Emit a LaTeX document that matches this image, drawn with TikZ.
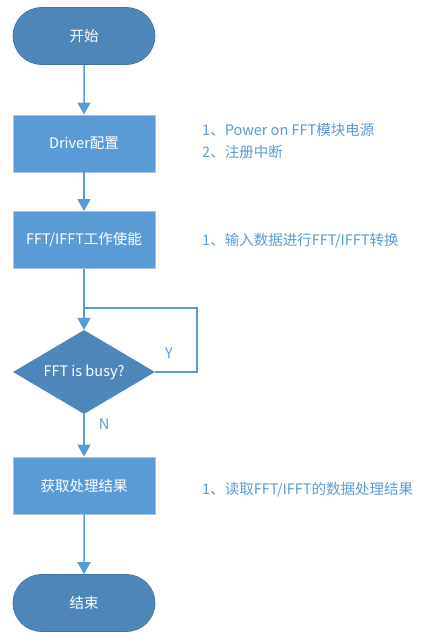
\documentclass[tikz,border=0pt]{standalone}
\usepackage{fontspec}
\setmainfont{Noto Sans CJK SC}
\usetikzlibrary{shapes.geometric,shapes.misc,arrows.meta}
\definecolor{termfill}{HTML}{4E86B9}
\definecolor{termdraw}{HTML}{41719C}
\definecolor{boxfill}{HTML}{5B9BD5}
\definecolor{boxdraw}{HTML}{A9C4E4}
\definecolor{linec}{HTML}{5B9BD5}
\definecolor{notec}{HTML}{5B9BD5}
\tikzset{
  x=1pt,y=-1pt,
  every node/.style={font=\fontsize{14.5}{17}\selectfont, inner sep=0pt},
  term/.style={rounded rectangle, fill=termfill, draw=termdraw, line width=0.6pt,
    minimum width=142pt, minimum height=57pt, text=white},
  proc/.style={rectangle, fill=boxfill, draw=boxdraw, line width=0.8pt,
    minimum width=142pt, minimum height=57pt, text=white},
  dec/.style={diamond, fill=termfill, draw=none, aspect=1.69,
    minimum width=142pt, minimum height=84pt, text=white},
  flow/.style={draw=linec, line width=1.5pt, -{Triangle[width=13pt,length=12pt]}},
  note/.style={text=notec, anchor=west},
  lab/.style={text=notec}
}
\begin{document}
\begin{tikzpicture}
\useasboundingbox (0,0) rectangle (435,642);
\node[term] (start) at (84,36) {开始};
\node[proc] (drv) at (84,143.5) {Driver配置};
\node[proc] (fft) at (84,240) {FFT/IFFT工作使能};
\node[dec] (busy) at (84,372) {};
\node[text=white] (busyt) at (busy.center) {FFT is busy?};
\node[proc] (res) at (84,485.5) {获取处理结果};
\node[term] (end) at (84,603) {结束};

\coordinate (j) at (84,308);
\coordinate (r1) at (197,308);
\coordinate (r2) at (197,372);

\draw[flow] (start) -- (drv);
\draw[flow] (drv) -- (fft);
\draw[flow] (fft) -- (busy);
\draw[draw=linec, line width=1.5pt] (busy.east) -- (r2) -- (r1) -- (j);
\draw[flow] (busy) -- (res);
\draw[flow] (res) -- (end);

\node[lab] (y) at (169,353) {Y};
\node[lab] (n) at (104,424) {N};

\node[note] (n1) at (202,130) {1、Power on FFT模块电源};
\node[note] (n2) at (202,152) {2、注册中断};
\node[note] (n3) at (202,241) {1、输入数据进行FFT/IFFT转换};
\node[note] (n4) at (202,490) {1、读取FFT/IFFT的数据处理结果};
\end{tikzpicture}
\end{document}
